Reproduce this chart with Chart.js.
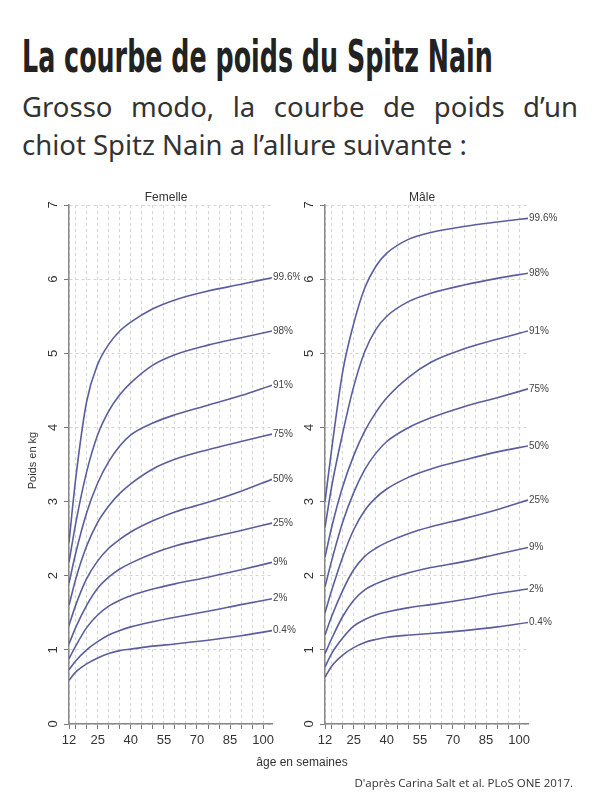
<!DOCTYPE html>
<html lang="fr">
<head>
<meta charset="utf-8">
<script src="https://cdn.jsdelivr.net/npm/chart.js@4.4.1/dist/chart.umd.min.js"></script>
<style>
  html, body { margin: 0; padding: 0; background: #fff; }
  body { width: 600px; height: 800px; position: relative; overflow: hidden; font-family: 'Liberation Sans', Arial, sans-serif; }
  h1 { position: absolute; left: 22px; top: 34px; margin: 0; font-family: 'Liberation Sans Narrow', 'DejaVu Sans Condensed', sans-serif; font-weight: bold; font-size: 34px; line-height: 1; color: #222; white-space: nowrap; transform-origin: left top; }
  .intro { position: absolute; left: 22px; width: 556px; font-family: 'Noto Sans', sans-serif; font-size: 27.5px; line-height: 1; color: #333; white-space: nowrap; }
  #l1 { top: 93px; text-align: justify; text-align-last: justify; }
  #l2 { top: 131px; }
  canvas { position: absolute; top: 190px; }
  #fem { left: 0; }
  #mal { left: 300px; }
  .xt { position: absolute; left: 200px; width: 204px; top: 755px; text-align: center; font-size: 12px; color: #333; }
  .src { position: absolute; right: 27px; top: 775px; font-family: 'Open Sans', sans-serif; font-size: 11.5px; color: #333; }
</style>
</head>
<body>
<h1 id="ttl">La courbe de poids du Spitz Nain</h1>
<div class="intro" id="l1">Grosso modo, la courbe de poids d’un</div>
<div class="intro" id="l2">chiot Spitz Nain a l’allure suivante :</div>
<canvas id="fem" width="300" height="570"></canvas>
<canvas id="mal" width="300" height="570"></canvas>
<div class="xt">âge en semaines</div>
<div class="src">D'après Carina Salt et al. PLoS ONE 2017.</div>
<script>
const WEEKS = [12, 15, 20, 25, 30, 35, 40, 50, 60, 75, 90, 104];
const PCT = ['0.4%', '2%', '9%', '25%', '50%', '75%', '91%', '98%', '99.6%'];
const X_TICKS = [12, 15, 20, 25, 30, 35, 40, 45, 50, 55, 60, 65, 70, 75, 80, 85, 90, 95, 100];
const X_LABELS = [12, 25, 40, 55, 70, 85, 100];

// Femelle (kg)
const F_04  = [0.59, 0.70, 0.81, 0.89, 0.95, 0.99, 1.01, 1.05, 1.08, 1.13, 1.19, 1.26];
const F_2   = [0.73, 0.85, 1.00, 1.11, 1.20, 1.26, 1.31, 1.38, 1.44, 1.52, 1.61, 1.69];
const F_9   = [0.88, 1.05, 1.30, 1.47, 1.59, 1.67, 1.73, 1.82, 1.89, 1.98, 2.08, 2.18];
const F_25  = [1.08, 1.30, 1.60, 1.83, 1.98, 2.09, 2.17, 2.30, 2.40, 2.51, 2.61, 2.71];
const F_50  = [1.33, 1.60, 1.96, 2.20, 2.37, 2.49, 2.59, 2.74, 2.86, 2.99, 3.14, 3.30];
const F_75  = [1.60, 1.95, 2.40, 2.72, 2.94, 3.11, 3.24, 3.44, 3.57, 3.70, 3.81, 3.91];
const F_91  = [1.90, 2.30, 2.85, 3.25, 3.54, 3.75, 3.90, 4.06, 4.17, 4.30, 4.43, 4.57];
const F_98  = [2.18, 2.70, 3.40, 3.90, 4.22, 4.44, 4.60, 4.84, 4.98, 5.11, 5.21, 5.30];
const F_996 = [2.45, 3.30, 4.35, 4.85, 5.12, 5.30, 5.42, 5.60, 5.72, 5.84, 5.93, 6.02];

// Mâle (kg)
const M_04  = [0.63, 0.78, 0.93, 1.03, 1.10, 1.14, 1.17, 1.20, 1.22, 1.26, 1.31, 1.37];
const M_2   = [0.77, 0.95, 1.16, 1.32, 1.41, 1.47, 1.51, 1.57, 1.61, 1.68, 1.76, 1.82];
const M_9   = [0.95, 1.15, 1.45, 1.67, 1.81, 1.89, 1.95, 2.04, 2.11, 2.19, 2.29, 2.38];
const M_25  = [1.20, 1.45, 1.80, 2.08, 2.26, 2.37, 2.45, 2.57, 2.66, 2.77, 2.89, 3.02];
const M_50  = [1.50, 1.80, 2.25, 2.62, 2.88, 3.05, 3.17, 3.33, 3.44, 3.56, 3.67, 3.75];
const M_75  = [1.85, 2.20, 2.72, 3.12, 3.43, 3.65, 3.81, 4.00, 4.13, 4.28, 4.40, 4.52];
const M_91  = [2.25, 2.65, 3.20, 3.62, 3.95, 4.20, 4.40, 4.68, 4.88, 5.06, 5.19, 5.30];
const M_98  = [2.65, 3.20, 3.92, 4.55, 5.02, 5.32, 5.50, 5.70, 5.81, 5.92, 6.01, 6.08];
const M_996 = [3.00, 3.70, 4.75, 5.40, 5.88, 6.17, 6.35, 6.54, 6.63, 6.71, 6.77, 6.82];

const LINE = '#5b5d9d';
const TXT = '#333';
const FONT = "'Liberation Sans', Arial, sans-serif";

/* panel title, rotated y tick labels, percentile tags at curve ends */
const decor = {
  id: 'decor',
  afterDraw(chart, args, o) {
    const { ctx, chartArea: a, scales: { x, y } } = chart;
    ctx.save();
    ctx.fillStyle = TXT;
    ctx.textBaseline = 'middle';
    ctx.textAlign = 'center';
    ctx.font = '13px ' + FONT;
    y.ticks.forEach((t) => {
      ctx.save();
      ctx.translate(a.left - 16, y.getPixelForValue(t.value));
      ctx.rotate(-Math.PI / 2);
      ctx.fillText(String(t.value), 0, 0);
      ctx.restore();
    });
    ctx.font = '12px ' + FONT;
    ctx.fillText(o.title, x.getPixelForValue(56), a.top - 7);
    if (o.yTitle) {
      ctx.save();
      ctx.font = '11px ' + FONT;
      ctx.translate(33, (a.top + a.bottom) / 2 - 4);
      ctx.rotate(-Math.PI / 2);
      ctx.fillText(o.yTitle, 0, 0);
      ctx.restore();
    }
    ctx.textAlign = 'left';
    ctx.font = '10px ' + FONT;
    ctx.fillStyle = '#444';
    chart.data.datasets.forEach((ds) => {
      const p = ds.data[ds.data.length - 1];
      ctx.fillText(ds.label, x.getPixelForValue(p.x) + 1, y.getPixelForValue(p.y));
    });
    ctx.restore();
  }
};

function datasets(series) {
  return series.map((vals, i) => ({
    label: PCT[i],
    data: WEEKS.map((w, j) => ({ x: w, y: vals[j] })),
    borderColor: LINE, borderWidth: 1.6, pointRadius: 0,
    cubicInterpolationMode: 'monotone', fill: false
  }));
}

function draw(id, series, leftW, rightPad, title, yTitle) {
  new Chart(document.getElementById(id), {
    type: 'line',
    data: { datasets: datasets(series) },
    plugins: [decor],
    options: {
      responsive: false, animation: false,
      layout: { padding: { top: 15, right: rightPad, left: 0, bottom: 0 } },
      plugins: { legend: { display: false }, tooltip: { enabled: false }, decor: { title, yTitle } },
      scales: {
        x: {
          type: 'linear', min: 12, max: 104,
          afterBuildTicks: (s) => { s.ticks = X_TICKS.map((v) => ({ value: v })); },
          afterFit: (s) => { s.height = 36; },
          ticks: { autoSkip: false, maxRotation: 0, padding: 4, color: TXT, font: { family: FONT, size: 13 },
            callback: (v) => (X_LABELS.includes(v) ? String(v) : '') },
          grid: { color: '#d4d4d4', tickColor: '#777', tickLength: 5, tickWidth: 1 },
          border: { color: '#888', width: 1.5, dash: [3, 3] }
        },
        y: {
          min: 0, max: 7,
          afterFit: (s) => { s.width = leftW; },
          ticks: { stepSize: 1, display: false },
          grid: { color: '#d4d4d4', tickColor: '#777', tickLength: 5, tickWidth: 1 },
          border: { color: '#888', width: 1.5, dash: [3, 3] }
        }
      }
    }
  });
}

// squeeze the heading into the condensed width of the original
const ttl = document.getElementById('ttl');
ttl.style.transform = 'scale(' + (471 / ttl.offsetWidth) + ', 1.3)';

draw('fem', [F_04, F_2, F_9, F_25, F_50, F_75, F_91, F_98, F_996], 69, 28, 'Femelle', 'Poids en kg');
draw('mal', [M_04, M_2, M_9, M_25, M_50, M_75, M_91, M_98, M_996], 25, 72, 'Mâle', null);
</script>
</body>
</html>
